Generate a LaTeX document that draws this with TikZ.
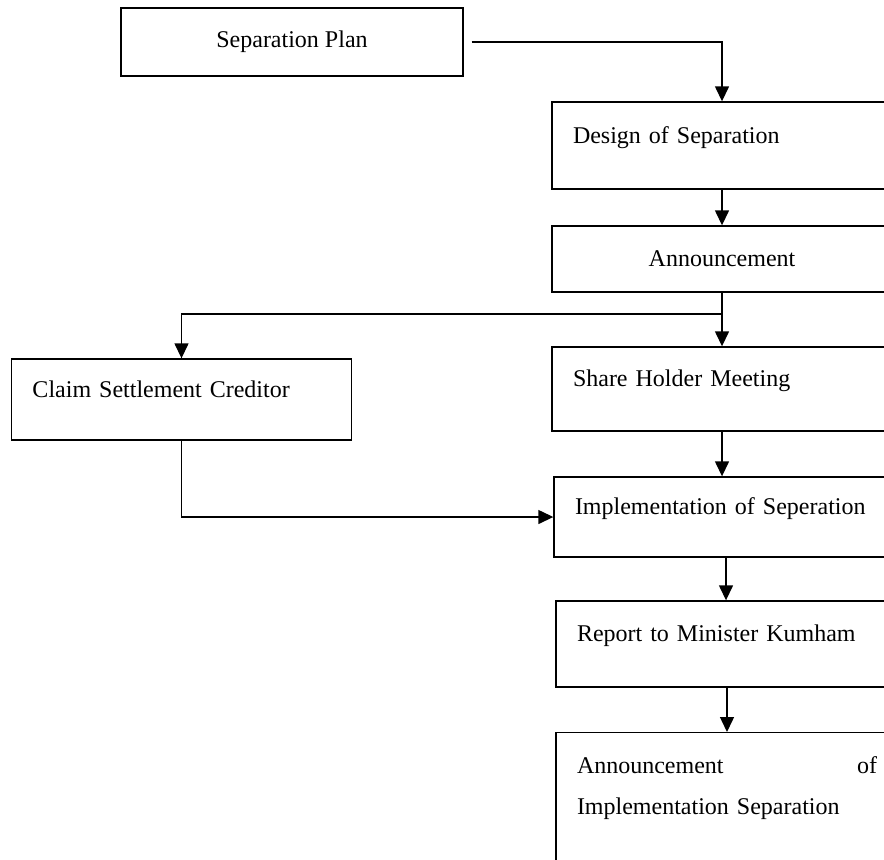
\documentclass[tikz,border=0pt]{standalone}
\usepackage{fontspec}
\setmainfont{Liberation Serif}
\usetikzlibrary{arrows.meta}

\begin{document}
\begin{tikzpicture}[x=0.5pt,y=-0.5pt,->,>={Triangle[width=7pt,length=7.5pt]},line width=0.7pt,
    box/.style={draw,rectangle,font=\fontsize{12pt}{14pt}\selectfont},
    midbox/.style={box,align=center},
    leftbox/.style={box,text width=149pt,inner xsep=10.5pt,align=left,text depth=10.5pt}]
        \useasboundingbox (0,0) rectangle (884,859);
        \clip (0,0) rectangle (884,859);
        \node[midbox,minimum width=171pt,minimum height=34pt] (plan) at (292,42) {Separation Plan};
        \node[leftbox,minimum height=43.5pt] (design) at (722,145.5) {Design of Separation};
        \node[midbox,minimum width=170pt,minimum height=33pt] (announce) at (722,259) {Announcement};
        \node[leftbox,minimum height=42pt] (share) at (722,389) {Share Holder Meeting};
        \node[leftbox,minimum height=40.5pt] (claim) at (181.5,399.5) {Claim Settlement Creditor};
        \node[leftbox,minimum height=40pt] (impl) at (724,517) {Implementation of Seperation};
        \node[leftbox,minimum height=43pt] (report) at (726,644) {Report to Minister Kumham};
        \node[box,anchor=north,text width=150pt,inner xsep=10.5pt,inner ysep=12pt,align=left,text depth=60pt,
            font=\fontsize{12pt}{20.5pt}\selectfont] (final) at (727,732)
            {Announcement\hfill of\\Implementation Separation};
        \coordinate (split) at (722,314);
        \draw[shorten <=4pt] (plan.east) -| (design.north);
        \draw (design.south) -- (announce.north);
        \draw (announce.south) -- (share.north);
        \draw (split) -| (claim.north);
        \draw (share.south) -- (share.south |- impl.north);
        \draw (claim.south) |- (impl.west);
        \draw (report.north |- impl.south) -- (report.north);
        \draw (final.north |- report.south) -- (final.north);
      \end{tikzpicture}
\end{document}
